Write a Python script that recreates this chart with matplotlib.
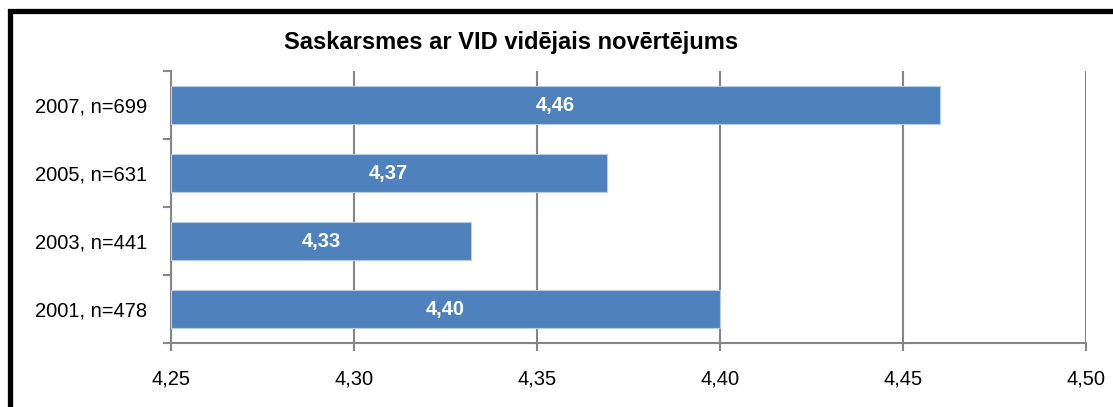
import matplotlib
matplotlib.use('Agg')
import matplotlib.pyplot as plt
from matplotlib.patches import Rectangle
from matplotlib.ticker import FuncFormatter

plt.rcParams['font.family'] = ['Liberation Sans', 'DejaVu Sans']

categories = ['2001, n=478', '2003, n=441', '2005, n=631', '2007, n=699']
values = [4.40, 4.332, 4.369, 4.46]
labels = ['4,40', '4,33', '4,37', '4,46']
xticks = [4.25, 4.30, 4.35, 4.40, 4.45, 4.50]

fig = plt.figure(figsize=(11.13, 4.07), dpi=100)
ax = fig.add_axes([171/1113, 1 - 343/407, (1086-171)/1113, (343-71)/407])

blue = '#4F81BD'
grey = '#868686'
ax.barh(range(len(categories)), [v - 4.25 for v in values], left=4.25,
        height=0.57, color=blue, edgecolor='#B9CDE5', linewidth=0.8, zorder=3)
for i, (v, lab) in enumerate(zip(values, labels)):
    ax.text((4.25 + v) / 2, i, lab, color='white', fontweight='bold',
            fontsize=14.5, ha='center', va='center', zorder=4)

ax.set_xlim(4.25, 4.50)
ax.set_ylim(-0.5, len(categories) - 0.5)
ax.set_xticks(xticks)
ax.xaxis.set_major_formatter(FuncFormatter(lambda x, p: f'{x:.2f}'.replace('.', ',')))
ax.set_yticks(range(len(categories)))
ax.set_yticklabels(categories)
ax.set_yticks([i - 0.5 for i in range(len(categories) + 1)], minor=True)
ax.tick_params(axis='y', which='major', length=0, labelsize=14.5, pad=17)
ax.tick_params(axis='y', which='minor', length=6, color=grey, width=1.5)
ax.tick_params(axis='x', length=6, color=grey, width=1.5, labelsize=14.5, pad=13)
ax.grid(axis='x', color=grey, linewidth=1.5, zorder=0)
for s in ['top', 'right']:
    ax.spines[s].set_visible(False)
for s in ['left', 'bottom']:
    ax.spines[s].set_color(grey)
    ax.spines[s].set_linewidth(1.5)

fig.text(511/1113, 1 - 42/407, 'Saskarsmes ar VID vidējais novērtējums',
         ha='center', va='center', fontsize=17, fontweight='bold')

# chart frame, cut off at the right and bottom edges of the image
fig.patches.append(Rectangle((10/1113, -0.05), 1.1, 1.05 - 11/407,
                             transform=fig.transFigure, fill=False,
                             edgecolor='black', linewidth=3.8))

fig.savefig('out.png', dpi=100)
